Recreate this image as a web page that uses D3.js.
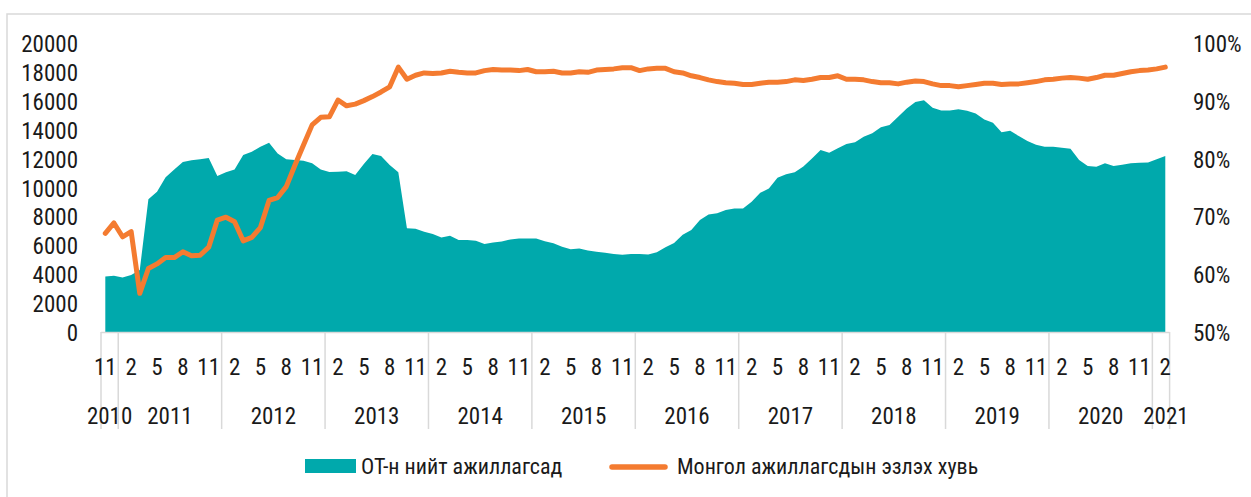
<!DOCTYPE html>
<html>
<head>
<meta charset="utf-8">
<script src="https://cdn.jsdelivr.net/npm/d3@7"></script>
<style>
  html, body { margin: 0; padding: 0; background: #fff; }
  svg { display: block; }
  text { font-family: "Liberation Sans Narrow", "Roboto Condensed", "Arial Narrow", "DejaVu Sans Condensed", sans-serif; fill: #1a1a1a; }
</style>
</head>
<body>
<svg id="chart" width="1251" height="497"></svg>
<script>
// Monthly observations, Nov 2010 – Feb 2021
const startMonth = new Date(2010, 10, 1);
const endMonth = new Date(2021, 2, 1);
const months = d3.timeMonth.range(startMonth, endMonth);

// Total workers at OT (persons)
const totalWorkers = [
  3850, 3900, 3780, 3950, 4300, 9200, 9720, 10720, 11270, 11780, 11900, 11970,
  12060, 10810, 11070, 11270, 12270, 12500, 12840, 13120, 12380, 11970, 11920, 11870,
  11690, 11270, 11090, 11110, 11140, 10880, 11640, 12340, 12200, 11570, 11070, 7190,
  7160, 6950, 6800, 6550, 6680, 6380, 6380, 6330, 6100, 6200, 6280, 6420,
  6490, 6490, 6490, 6290, 6150, 5910, 5740, 5780, 5650, 5570, 5500, 5410,
  5360, 5410, 5410, 5380, 5520, 5870, 6170, 6750, 7070, 7760, 8140, 8230,
  8450, 8570, 8570, 9030, 9650, 9940, 10700, 10940, 11080, 11480, 12030, 12610,
  12430, 12730, 13030, 13150, 13540, 13770, 14190, 14350, 14920, 15500, 15950, 16070,
  15550, 15360, 15360, 15450, 15340, 15150, 14740, 14500, 13840, 13950, 13580, 13240,
  12980, 12840, 12840, 12770, 12700, 11920, 11500, 11460, 11690, 11500, 11600, 11690,
  11730, 11750, 11970, 12200
];

// Share of Mongolian workers (%)
const mongolianShare = [
  67.1, 68.9, 66.5, 67.4, 56.7, 61.0, 61.8, 62.9, 62.9, 63.9, 63.2, 63.3,
  64.7, 69.4, 69.9, 69.1, 65.8, 66.4, 68.1, 72.8, 73.3, 75.2, 78.9, 82.4,
  85.9, 87.2, 87.3, 90.2, 89.2, 89.5, 90.1, 90.8, 91.6, 92.5, 95.9, 93.8,
  94.5, 94.9, 94.8, 94.9, 95.2, 95.0, 94.9, 94.9, 95.3, 95.5, 95.4, 95.4,
  95.3, 95.5, 95.1, 95.1, 95.2, 94.9, 94.9, 95.1, 95.0, 95.4, 95.5, 95.6,
  95.8, 95.8, 95.3, 95.6, 95.7, 95.7, 95.1, 94.9, 94.4, 94.1, 93.7, 93.4,
  93.2, 93.1, 92.9, 92.9, 93.1, 93.3, 93.3, 93.4, 93.7, 93.6, 93.8, 94.1,
  94.1, 94.4, 93.8, 93.8, 93.7, 93.4, 93.2, 93.2, 93.0, 93.3, 93.5, 93.4,
  93.0, 92.7, 92.7, 92.5, 92.7, 92.9, 93.1, 93.1, 92.9, 93.0, 93.0, 93.2,
  93.4, 93.7, 93.8, 94.0, 94.1, 94.0, 93.8, 94.1, 94.5, 94.5, 94.8, 95.1,
  95.3, 95.4, 95.6, 95.9
];

const leftTicks = [0, 2000, 4000, 6000, 8000, 10000, 12000, 14000, 16000, 18000, 20000];
const rightTicks = [50, 60, 70, 80, 90, 100];
const labelledMonths = [2, 5, 8, 11];
const seriesNames = ["ОТ-н нийт ажиллагсад", "Монгол ажиллагсдын эзлэх хувь"];

const teal = "#00a9ac";
const orange = "#f47b30";
const gridGrey = "#d9d9d9";

const svg = d3.select("#chart");

// outer frame
svg.append("rect")
  .attr("x", 7).attr("y", 14).attr("width", 1400).attr("height", 700)
  .attr("fill", "none").attr("stroke", gridGrey).attr("stroke-width", 1.5);

const plotLeft = 101, plotRight = 1169.6, plotTop = 43.5, plotBottom = 332;

const x = d3.scaleBand().domain(d3.range(months.length)).range([plotLeft, plotRight]).padding(0);
const cx = i => x(i) + x.bandwidth() / 2;
const yL = d3.scaleLinear().domain([0, 20000]).range([plotBottom, plotTop]);
const yR = d3.scaleLinear().domain([50, 100]).range([plotBottom, plotTop]);

// left axis labels
const leftAxis = d3.axisLeft(yL).tickValues(leftTicks).tickSize(0).tickPadding(0).tickFormat(d3.format("d"));
const gL = svg.append("g").attr("transform", "translate(78,1)").call(leftAxis);
gL.select(".domain").remove();
gL.selectAll("text").style("font-size", "23px").attr("fill", "#1a1a1a");

// right axis labels
const rightAxis = d3.axisRight(yR).tickValues(rightTicks).tickSize(0).tickPadding(0).tickFormat(d => d + "%");
const gR = svg.append("g").attr("transform", "translate(1193,1)").call(rightAxis);
gR.select(".domain").remove();
gR.selectAll("text").style("font-size", "23px").attr("fill", "#1a1a1a");

// area series
const area = d3.area()
  .x((d, i) => cx(i))
  .y0(yL(0))
  .y1(d => yL(d));
svg.append("path").datum(totalWorkers)
  .attr("d", area).attr("fill", teal);

// category axis line
svg.append("line")
  .attr("x1", plotLeft).attr("x2", plotRight)
  .attr("y1", plotBottom + 0.5).attr("y2", plotBottom + 0.5)
  .attr("stroke", gridGrey).attr("stroke-width", 1.3);

// year separators
const yearStarts = [0];
months.forEach((m, i) => { if (i > 0 && m.getMonth() === 0) yearStarts.push(i); });
const boundaries = yearStarts.map(i => x(i)).concat([plotRight]);
svg.append("g").selectAll("line").data(boundaries).join("line")
  .attr("x1", d => d).attr("x2", d => d)
  .attr("y1", plotBottom).attr("y2", 429)
  .attr("stroke", gridGrey).attr("stroke-width", 1.5);

// month labels
svg.append("g").selectAll("text")
  .data(months.map((m, i) => ({ m, i })).filter(d => labelledMonths.includes(d.m.getMonth() + 1)))
  .join("text")
  .attr("x", d => cx(d.i)).attr("y", 375)
  .attr("text-anchor", "middle").style("font-size", "23px")
  .text(d => d.m.getMonth() + 1);

// year labels (the short final year is nudged right so it stays readable)
const years = yearStarts.map((s, k) => {
  const e = k + 1 < yearStarts.length ? yearStarts[k + 1] : months.length;
  return { year: months[s].getFullYear(), x0: x(s), x1: x(e - 1) + x.bandwidth(), last: k === yearStarts.length - 1 };
});
svg.append("g").selectAll("text").data(years).join("text")
  .attr("x", d => (d.x0 + d.x1) / 2 + (d.last ? 5 : 0)).attr("y", 424)
  .attr("text-anchor", "middle").style("font-size", "23px")
  .text(d => d.year);

// line series
const line = d3.line()
  .x((d, i) => cx(i))
  .y(d => yR(d));
svg.append("path").datum(mongolianShare)
  .attr("d", line).attr("fill", "none")
  .attr("stroke", orange).attr("stroke-width", 5)
  .attr("stroke-linejoin", "round").attr("stroke-linecap", "round");

// legend
const lg = svg.append("g");
lg.append("rect").attr("x", 305).attr("y", 459).attr("width", 51).attr("height", 14).attr("fill", teal);
lg.append("text").attr("x", 361).attr("y", 474).style("font-size", "22px").text(seriesNames[0]);
lg.append("line").attr("x1", 612).attr("x2", 665).attr("y1", 467).attr("y2", 467)
  .attr("stroke", orange).attr("stroke-width", 5.5).attr("stroke-linecap", "round");
lg.append("text").attr("x", 677).attr("y", 474).style("font-size", "22px").text(seriesNames[1]);
</script>
</body>
</html>
